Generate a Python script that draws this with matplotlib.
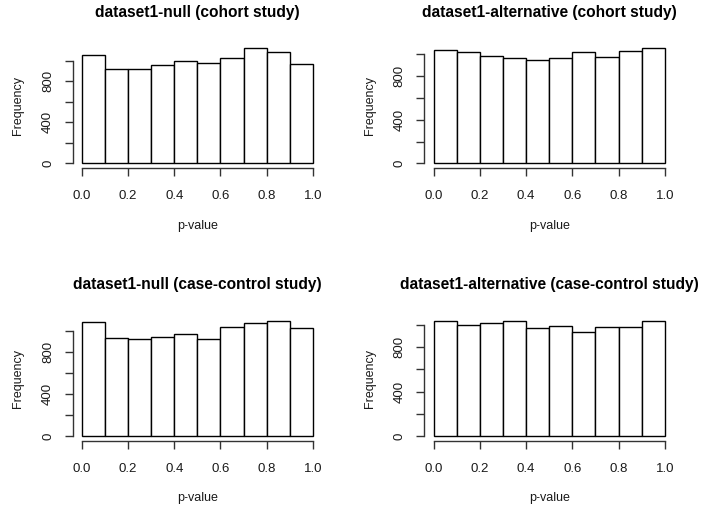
import matplotlib
matplotlib.use("Agg")
import matplotlib.pyplot as plt
import numpy as np

plt.rcParams['font.family'] = ['Liberation Sans', 'DejaVu Sans']

bin_edges = [0.0, 0.1, 0.2, 0.3, 0.4, 0.5, 0.6, 0.7, 0.8, 0.9, 1.0]
null_cohort = [1057, 917, 917, 956, 998, 979, 1028, 1128, 1089, 969]
alt_cohort = [1041, 1023, 983, 965, 947, 965, 1023, 974, 1029, 1060]
null_cc = [1084, 934, 924, 943, 972, 924, 1039, 1080, 1100, 1033]
alt_cc = [1032, 1002, 1020, 1038, 975, 993, 938, 983, 983, 1032]
titles = ["dataset1-null (cohort study)", "dataset1-alternative (cohort study)",
          "dataset1-null (case-control study)", "dataset1-alternative (case-control study)"]
series = [null_cohort, alt_cohort, null_cc, alt_cc]
x_ticks = [0.0, 0.2, 0.4, 0.6, 0.8, 1.0]
x_tick_labels = ["0.0", "0.2", "0.4", "0.6", "0.8", "1.0"]
y_ticks = [0, 200, 400, 600, 800, 1000]
y_tick_labels = ["0", "", "400", "", "800", ""]

W, H = 704, 509
fig = plt.figure(figsize=(W / 100, H / 100), dpi=100)

cols = [(72.8, 322.0), (424.4, 674.0)]
rows = [(43.0, 168.0), (316.0, 441.0)]
title_y = [13, 285]
xlab_y = [226, 498]
axcol = '#333333'
txtcol = '#1a1a1a'

for i, (counts, title) in enumerate(zip(series, titles)):
    r, c = divmod(i, 2)
    x0, x1 = cols[c]
    y0, y1 = rows[r]
    ax = fig.add_axes([x0 / W, 1 - y1 / H, (x1 - x0) / W, (y1 - y0) / H])
    edges = np.array(bin_edges)
    ax.bar(edges[:-1], counts, width=np.diff(edges), align='edge',
           facecolor='white', edgecolor='black', linewidth=1.0)
    ymax = max(counts)
    ax.set_xlim(-0.04, 1.04)
    ax.set_ylim(-0.04 * ymax, 1.04 * ymax)
    for s in ['top', 'right']:
        ax.spines[s].set_visible(False)
    ax.spines['left'].set_bounds(0, 1000)
    ax.spines['bottom'].set_bounds(0, 1)
    for s in ['left', 'bottom']:
        ax.spines[s].set_color(axcol)
        ax.spines[s].set_linewidth(1.0)
    ax.set_xticks(x_ticks)
    ax.set_xticklabels(x_tick_labels)
    ax.set_yticks(y_ticks)
    ax.set_yticklabels(y_tick_labels, rotation=90, va='center')
    ax.tick_params(axis='both', length=5.5, width=1.0, color=axcol,
                   labelsize=9.5, labelcolor=txtcol)
    ax.tick_params(axis='x', pad=10)
    ax.tick_params(axis='y', pad=8)
    xc = (x0 + x1) / 2
    fig.text(xc / W, 1 - title_y[r] / H, title, ha='center', va='center',
             fontsize=11.2, fontweight='bold', color='black')
    fig.text(xc / W, 1 - xlab_y[r] / H, "p-value", ha='center', va='center',
             fontsize=9, color=txtcol)
    fig.text(18 / W + (c * 352) / W, 1 - ((y0 + y1) / 2) / H, "Frequency",
             ha='center', va='center', rotation=90, fontsize=9, color=txtcol)

fig.savefig("out.png", dpi=100, facecolor='white')
